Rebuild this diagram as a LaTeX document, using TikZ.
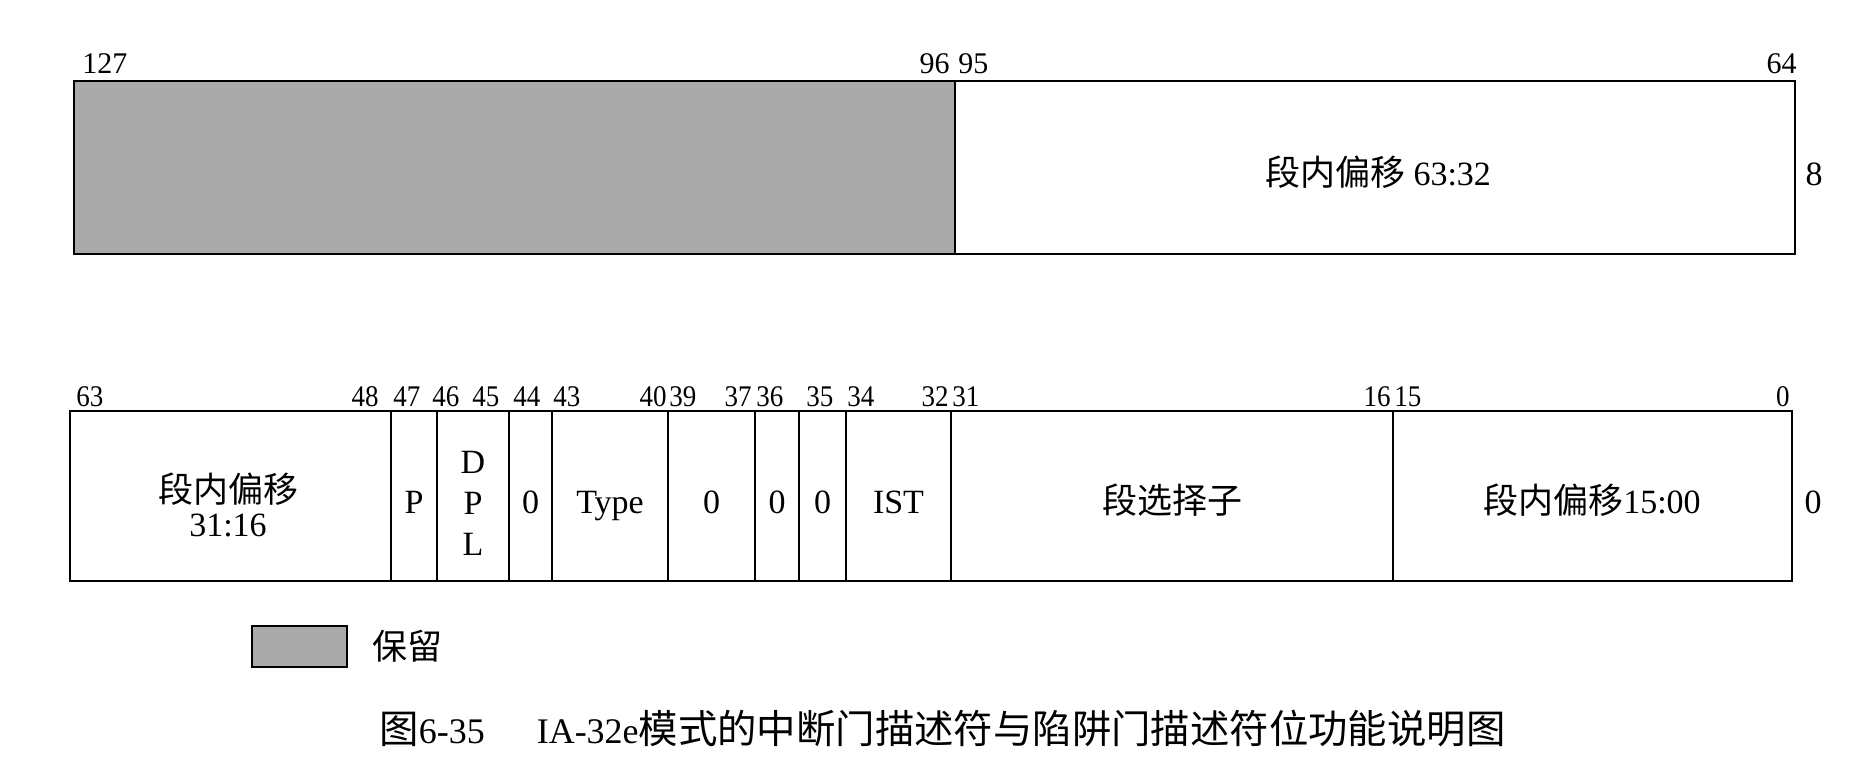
\documentclass[tikz,border=0pt]{standalone}
\usepackage{fontspec}
\usepackage{graphicx}
\setmainfont{Liberation Serif}
\newfontfamily\cjk{Noto Sans CJK SC}
\newcommand{\nb}[1]{\scalebox{0.9}[1]{#1}}
\newcommand{\ck}[1]{{\fontsize{17.5}{21}\cjk #1}}
\newcommand{\capck}[1]{{\fontsize{19.7}{24}\cjk #1}}
\definecolor{resgray}{RGB}{170,170,170}
\tikzset{
  fieldline/.style={draw=black, line width=1pt},
  reserved/.style={fill=resgray},
  bitlbl/.style={inner sep=0pt, font=\fontsize{15}{18}\selectfont},
  ftext/.style={inner sep=0pt, font=\fontsize{17}{17}\selectfont, anchor=base},
}
\begin{document}
\begin{tikzpicture}[x=0.5pt,y=-0.5pt]
\useasboundingbox (0,0) rectangle (1870,764);
\fill[white] (0,0) rectangle (1870,764);

% ---------- upper 64 bits ----------
\draw[fieldline, reserved] (74,81.5) rectangle (955,254);
\draw[fieldline] (955,81.5) rectangle (1795,254);
\node[bitlbl, anchor=base west] (b127) at (82,74) {127};
\node[bitlbl, anchor=base east] (b96) at (950,74) {96};
\node[bitlbl, anchor=base west] (b95) at (958,74) {95};
\node[bitlbl, anchor=base east] (b64) at (1797,74) {64};
\node[ftext] (off6332) at (1378,186) {\ck{段内偏移} 63:32};
\node[ftext] (byte8) at (1814,186) {8};

% ---------- lower 64 bits ----------
\draw[fieldline] (70,411.5) rectangle (1792,581.5);
\foreach \x in {391,437,509,552,668,755,799,846,951,1393}
  \draw[fieldline] (\x,411.5) -- (\x,581.5);

\node[bitlbl, anchor=base west] (l63) at (76,407) {\nb{63}};
\node[bitlbl, anchor=base east] (l48) at (379,407) {\nb{48}};
\node[bitlbl, anchor=base west] (l47) at (393,407) {\nb{47}};
\node[bitlbl, anchor=base west] (l46) at (432,407) {\nb{46}};
\node[bitlbl, anchor=base west] (l45) at (472,407) {\nb{45}};
\node[bitlbl, anchor=base west] (l44) at (513,407) {\nb{44}};
\node[bitlbl, anchor=base west] (l43) at (553,407) {\nb{43}};
\node[bitlbl, anchor=base east] (l40) at (667,407) {\nb{40}};
\node[bitlbl, anchor=base west] (l39) at (669,407) {\nb{39}};
\node[bitlbl, anchor=base east] (l37) at (752,407) {\nb{37}};
\node[bitlbl, anchor=base west] (l36) at (756,407) {\nb{36}};
\node[bitlbl, anchor=base west] (l35) at (806,407) {\nb{35}};
\node[bitlbl, anchor=base west] (l34) at (847,407) {\nb{34}};
\node[bitlbl, anchor=base east] (l32) at (949,407) {\nb{32}};
\node[bitlbl, anchor=base west] (l31) at (952,407) {\nb{31}};
\node[bitlbl, anchor=base east] (l16) at (1391,407) {\nb{16}};
\node[bitlbl, anchor=base west] (l15) at (1394,407) {\nb{15}};
\node[bitlbl, anchor=base east] (l0) at (1790,407) {\nb{0}};

\node[ftext, anchor=center, align=center] (off3116) at (228,505) {\ck{段内偏移}\\31:16};
\node[ftext] (pflag) at (414,514) {P};
\node[ftext, anchor=center, align=center, font=\fontsize{17}{20.5}\selectfont] (dpl) at (473,503) {D\\P\\L};
\node[ftext] (z44) at (530.5,514) {0};
\node[ftext] (type) at (610,514) {Type};
\node[ftext] (z39) at (711.5,514) {0};
\node[ftext] (z36) at (777,514) {0};
\node[ftext] (z35) at (822.5,514) {0};
\node[ftext] (ist) at (898.5,514) {IST};
\node[ftext] (sel) at (1172,514) {\ck{段选择子}};
\node[ftext] (off1500) at (1592,514) {\ck{段内偏移}15:00};
\node[ftext] (byte0) at (1813,514) {0};

% ---------- legend ----------
\draw[fieldline, reserved] (252,626) rectangle (347,667);
\node[ftext, anchor=west] (legtext) at (372,646) {\ck{保留}};

% ---------- caption ----------
\node[anchor=west, inner sep=0pt, font=\fontsize{18}{20}\selectfont] (caption) at (379,729)
  {\capck{图}6-35\hspace{26pt}IA-32e\capck{模式的中断门描述符与陷阱门描述符位功能说明图}};
\end{tikzpicture}
\end{document}
